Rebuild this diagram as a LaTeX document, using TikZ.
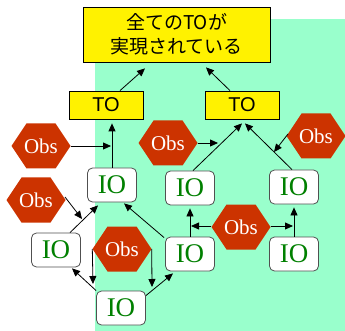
\documentclass[tikz,border=0pt]{standalone}
\usepackage{fontspec}
\setmainfont{Liberation Serif}
\newfontfamily\timesfont{Liberation Serif}
\newfontfamily\arialfont{Liberation Sans}
\newfontfamily\cjkfont{Noto Sans CJK JP}
\usetikzlibrary{arrows.meta,calc}
\definecolor{bggreen}{RGB}{153,255,204}
\definecolor{obsred}{RGB}{204,51,0}
\definecolor{iogreen}{RGB}{0,128,0}
\definecolor{ioborder}{RGB}{80,80,80}
\tikzset{
  conn/.style={line width=0.8pt, -{Triangle[length=8pt,width=7pt]}},
  tobox/.style={draw=black, line width=0.8pt, fill=yellow, minimum width=74pt, minimum height=28pt, inner sep=0pt, font=\arialfont\fontsize{20}{22}\selectfont},
  mainbox/.style={draw=black, line width=0.8pt, fill=yellow, minimum width=187pt, minimum height=55pt, inner sep=0pt, align=center, font=\cjkfont\fontsize{19}{24}\selectfont},
  iobox/.style={draw=ioborder, line width=0.8pt, fill=white, rounded corners=5pt, minimum width=49pt, minimum height=34pt, inner sep=0pt, text=iogreen, font=\timesfont\fontsize{27}{28}\selectfont},
  obstext/.style={minimum width=59pt, minimum height=45pt, inner sep=0pt, text=white, font=\timesfont\fontsize{21}{22}\selectfont},
}
\newcommand{\obshex}[3]{%
  \fill[obsred] (#2-29.5,#3) -- (#2-14.5,#3-22.5) -- (#2+14.5,#3-22.5) -- (#2+29.5,#3) -- (#2+14.5,#3+22.5) -- (#2-14.5,#3+22.5) -- cycle;
  \node[obstext] (#1) at (#2,#3) {Obs};}
\begin{document}
\begin{tikzpicture}[x=1pt,y=-1pt]
\useasboundingbox (0,0) rectangle (345,331);
\fill[white] (0,0) rectangle (345,331);
\fill[bggreen] (95,19) rectangle (345,331);

\node[mainbox] (M) at (176.5,34.5) {全てのTOが\\実現されている};
\node[tobox] (TOL) at (106,105) {TO};
\node[tobox] (TOR) at (242,105) {TO};

\node[iobox] (IO1) at (112,185) {IO};
\node[iobox] (IOm) at (190,188) {IO};
\node[iobox] (IOr) at (294,187) {IO};
\node[iobox] (IOl) at (56,250) {IO};
\node[iobox] (IOmb) at (190,254) {IO};
\node[iobox] (IOrb) at (294,254) {IO};
\node[iobox] (IObot) at (121,308) {IO};

\obshex{ObsL1}{41}{146}
\obshex{ObsM1}{168}{143}
\obshex{ObsR1}{316}{136}
\obshex{ObsL2}{36}{200}
\obshex{ObsM2}{122}{249}
\obshex{ObsR2}{241}{227}

\coordinate (m1end) at (218,143);
\coordinate (r1end) at (274,152);
\coordinate (l2end) at (82,219);
\coordinate (m2left) at (93,284);
\coordinate (m2right) at (152,287);

% to main
\draw[conn] ([xshift=14pt]TOL.north) -- ([xshift=-31.5pt,yshift=-6pt]M.south);
\draw[conn] ([xshift=-12pt]TOR.north) -- ([xshift=29.5pt,yshift=-5pt]M.south);

% to TO left
\draw[conn, shorten >=4pt] (IO1.north) -- (IO1.north |- TOL.south);
\draw[conn, shorten >=1pt] (ObsL1.east) -- (ObsL1.east -| IO1.north);

% to TO right
\draw[conn] ([xshift=3pt]IOm.north) -- ([yshift=-4pt]TOR.south);
\draw[conn] ([xshift=-2pt]IOr.north) -- ([xshift=3pt,yshift=-4pt]TOR.south);
\draw[conn] (ObsM1.east) -- (m1end);
\draw[conn] ([xshift=-28pt,yshift=2pt]ObsR1.center) -- (r1end);

% lower left
\draw[conn] ([xshift=14pt]IOl.north) -- ([xshift=-14pt,yshift=-3pt]IO1.south);
\draw[conn] ([xshift=29pt,yshift=3pt]ObsL2.center) -- (l2end);
\draw[conn] ([xshift=-1pt,yshift=-1pt]IOmb.north west) -- ([xshift=12pt,yshift=-1pt]IO1.south);

% middle
\draw[conn, shorten >=3pt] (IOmb.north) -- (IOm.south);
\draw[conn, shorten >=1pt] ([yshift=1pt]ObsR2.west) -- ([yshift=1pt]ObsR2.west -| IOmb.north);
\draw[conn, shorten >=1pt] ([yshift=1pt]ObsR2.east) -- ([yshift=1pt]ObsR2.east -| IOrb.north);
\draw[conn, shorten >=3pt] (IOrb.north) -- (IOr.south);

% Obs middle bottom
\draw[conn] (ObsM2.west) -- (m2left);
\draw[conn] (ObsM2.east) -- (m2right);

% bottom IO
\draw[conn] (IObot.north west) -- ([xshift=16pt,yshift=-1pt]IOl.south);
\draw[conn] ([yshift=-5pt]IObot.north east) -- ([xshift=-17pt,yshift=-2pt]IOmb.south);
\end{tikzpicture}
\end{document}
